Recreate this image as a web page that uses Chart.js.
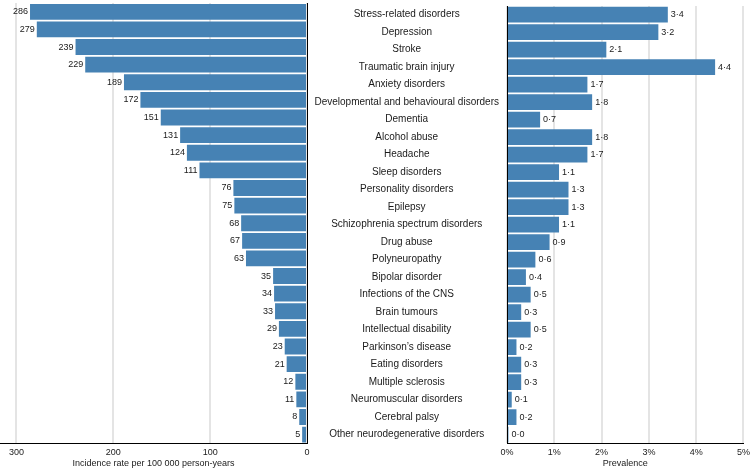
<!DOCTYPE html>
<html>
<head>
<meta charset="utf-8">
<script src="https://cdn.jsdelivr.net/npm/chart.js"></script>
<style>
  body { margin: 0; background: #fff; overflow: hidden; }
  #wrap { position: relative; width: 751px; height: 469px; overflow: hidden; }
  #left { position: absolute; left: 0; top: 0; }
  #right { position: absolute; left: 307px; top: 0; }
</style>
</head>
<body>
<div id="wrap">
  <canvas id="left" width="310" height="469"></canvas>
  <canvas id="right" width="447" height="469"></canvas>
</div>
<script>
// categorías y valores
const categories = [
  'Stress-related disorders', 'Depression', 'Stroke', 'Traumatic brain injury',
  'Anxiety disorders', 'Developmental and behavioural disorders', 'Dementia',
  'Alcohol abuse', 'Headache', 'Sleep disorders', 'Personality disorders',
  'Epilepsy', 'Schizophrenia spectrum disorders', 'Drug abuse', 'Polyneuropathy',
  'Bipolar disorder', 'Infections of the CNS', 'Brain tumours',
  'Intellectual disability', 'Parkinson\u2019s disease', 'Eating disorders',
  'Multiple sclerosis', 'Neuromuscular disorders', 'Cerebral palsy',
  'Other neurodegenerative disorders'
];
const incidence = [286, 279, 239, 229, 189, 172, 151, 131, 124, 111, 76, 75, 68, 67, 63, 35, 34, 33, 29, 23, 21, 12, 11, 8, 5];
const prevalence = [3.4, 3.2, 2.1, 4.4, 1.7, 1.8, 0.7, 1.8, 1.7, 1.1, 1.3, 1.3, 1.1, 0.9, 0.6, 0.4, 0.5, 0.3, 0.5, 0.2, 0.3, 0.3, 0.1, 0.2, 0.03];
const incidenceTicks = [0, 100, 200, 300];
const prevalenceTicks = [0, 1, 2, 3, 4, 5];

const BAR = '#4682b4';
const GRID = '#e4e4e4';
const TXT = '#1a1a1a';
const FONT = '"Liberation Sans", Arial, sans-serif';
Chart.defaults.font.family = FONT;
Chart.defaults.font.size = 9;
Chart.defaults.color = TXT;
Chart.defaults.animation = false;

// etiquetas de valor al final de cada barra
const valueLabels = {
  id: 'valueLabels',
  afterDatasetsDraw(chart, args, opts) {
    const ctx = chart.ctx;
    const meta = chart.getDatasetMeta(0);
    ctx.save();
    ctx.font = '9px ' + FONT;
    ctx.fillStyle = TXT;
    ctx.textBaseline = 'middle';
    meta.data.forEach((bar, i) => {
      const v = chart.data.datasets[0].data[i];
      if (opts.side === 'left') {
        ctx.textAlign = 'right';
        ctx.fillText(String(v), bar.x - 2, bar.y);
      } else {
        ctx.textAlign = 'left';
        ctx.fillText(v.toFixed(1).replace('.', '\u00b7'), bar.x + 3, bar.y);
      }
    });
    ctx.restore();
  }
};

const xTitle = text => ({ display: true, text: text, padding: { top: -4, bottom: 0 } });

// Gráfico izquierdo: incidencia (eje invertido)
new Chart(document.getElementById('left'), {
  type: 'bar',
  data: {
    labels: categories,
    datasets: [{ data: incidence, backgroundColor: BAR, barPercentage: 0.9, categoryPercentage: 1 }]
  },
  options: {
    indexAxis: 'y',
    responsive: false,
    layout: { padding: { top: 3, right: 3, left: 0, bottom: 0 } },
    scales: {
      x: {
        reverse: true,
        min: 0,
        max: 317,
        afterBuildTicks: s => { s.ticks = incidenceTicks.map(v => ({ value: v })); },
        grid: { color: GRID, lineWidth: 2, drawTicks: false },
        border: { color: '#000', width: 1 },
        ticks: { padding: 4, maxRotation: 0 },
        title: xTitle('Incidence rate per 100 000 person-years')
      },
      y: {
        position: 'right',
        grid: { display: false },
        ticks: { display: false },
        border: { color: '#000', width: 1 },
        afterFit: s => { s.width = 0; }
      }
    },
    plugins: { legend: { display: false }, tooltip: { enabled: false }, valueLabels: { side: 'left' } }
  },
  plugins: [valueLabels]
});

// Gráfico derecho: prevalencia, con nombres en el centro
new Chart(document.getElementById('right'), {
  type: 'bar',
  data: {
    labels: categories,
    datasets: [{ data: prevalence, backgroundColor: BAR, barPercentage: 0.9, categoryPercentage: 1 }]
  },
  options: {
    indexAxis: 'y',
    responsive: false,
    layout: { padding: { top: 3, right: 0, left: 0, bottom: 0 } },
    scales: {
      x: {
        min: 0,
        max: 5,
        afterBuildTicks: s => { s.ticks = prevalenceTicks.map(v => ({ value: v })); },
        grid: { color: GRID, lineWidth: 2, drawTicks: false },
        border: { color: '#000', width: 1 },
        ticks: { padding: 4, maxRotation: 0, callback: v => v + '%' },
        title: xTitle('Prevalence')
      },
      y: {
        grid: { display: false },
        border: { color: '#000', width: 1 },
        ticks: { crossAlign: 'center', padding: 0, font: { size: 10 } },
        afterFit: s => { s.width = 200; }
      }
    },
    plugins: { legend: { display: false }, tooltip: { enabled: false }, valueLabels: { side: 'right' } }
  },
  plugins: [valueLabels]
});
</script>
</body>
</html>
